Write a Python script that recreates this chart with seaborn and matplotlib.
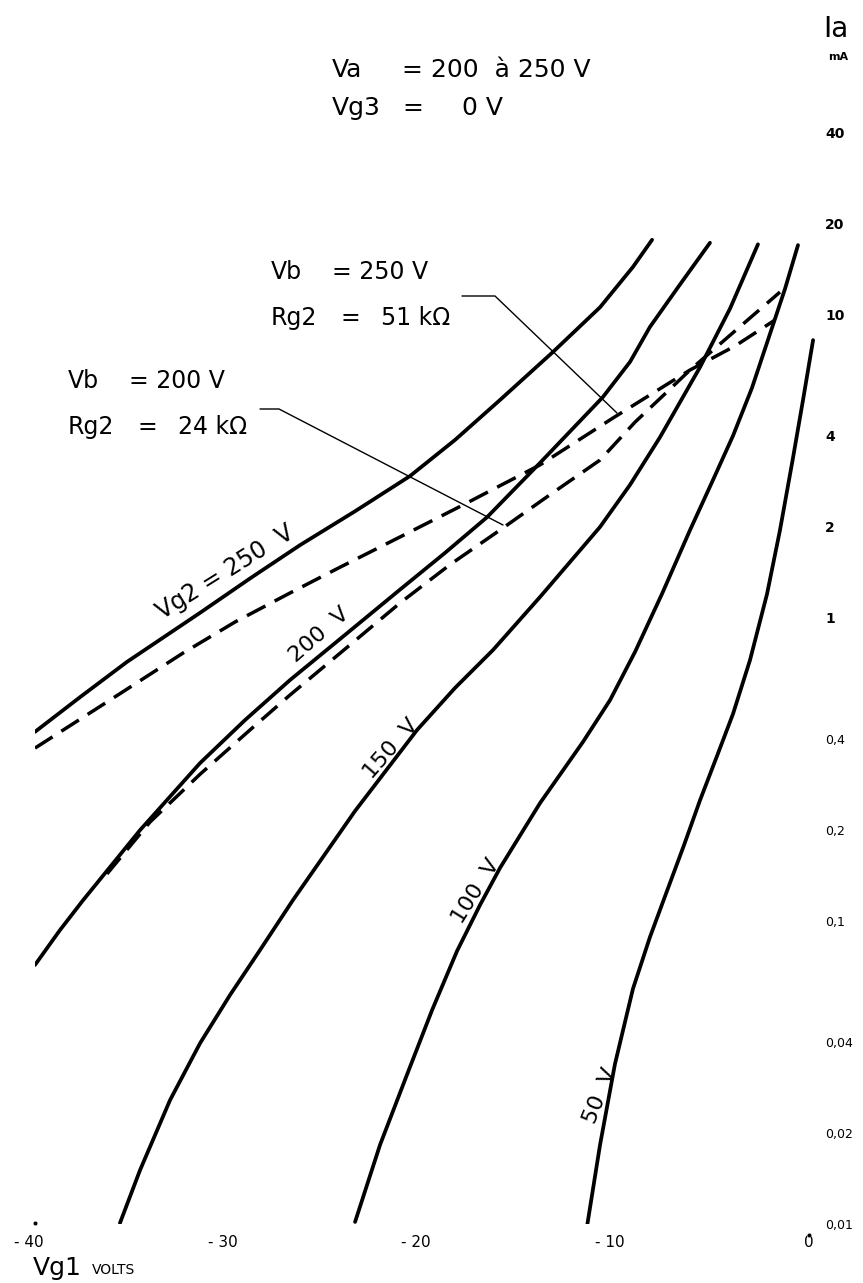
import matplotlib
matplotlib.use('Agg')
import matplotlib.pyplot as plt
from matplotlib.lines import Line2D
from matplotlib.ticker import NullLocator
from matplotlib.transforms import ScaledTranslation
import seaborn as sns

# Vg1 (volts) and Ia (mA), one pair of lists per curve
vg1_250 = [-40.0, -37.67, -35.25, -31.47, -28.89, -26.30, -23.46, -20.62,
           -18.29, -15.97, -13.23, -10.80, -9.10, -8.11]
ia_250 = [0.421, 0.548, 0.716, 1.04, 1.35, 1.74, 2.25, 2.94,
          3.87, 5.24, 7.55, 10.6, 14.4, 17.7]

vg1_200 = [-40.0, -38.71, -37.52, -34.57, -31.47, -29.15, -26.82, -23.98,
           -21.14, -18.81, -16.64, -13.90, -10.65, -9.25, -8.22, -6.67, -5.12]
ia_200 = [0.0716, 0.0933, 0.117, 0.1995, 0.332, 0.460, 0.624, 0.879,
          1.24, 1.64, 2.15, 3.25, 5.36, 7.0, 9.13, 12.6, 17.3]

vg1_150 = [-35.61, -34.57, -33.02, -31.47, -29.92, -28.37, -26.67, -23.46,
           -20.26, -18.29, -16.33, -13.90, -10.80, -9.25, -7.70, -5.63,
           -4.08, -2.64]
ia_150 = [0.01007, 0.01507, 0.02565, 0.0395, 0.0570, 0.0802, 0.1172, 0.2307,
          0.4266, 0.588, 0.784, 1.173, 1.997, 2.75, 3.95, 6.73,
          10.5, 17.1]

vg1_100 = [-23.46, -22.17, -20.78, -19.48, -18.19, -17.00, -15.97, -13.90,
           -11.68, -10.28, -8.99, -7.60, -6.15, -5.01, -3.93, -2.95,
           -2.02, -1.24, -0.57]
ia_100 = [0.01016, 0.01824, 0.03105, 0.0508, 0.0796, 0.113, 0.1496, 0.245,
          0.390, 0.536, 0.773, 1.20, 1.95, 2.81, 3.99, 5.74,
          8.65, 12.2, 17.0]

vg1_50 = [-11.47, -10.80, -10.03, -9.10, -8.22, -7.34, -6.46, -5.63,
          -4.75, -3.93, -3.05, -2.17, -1.50, -0.83, -0.31, 0.21]
ia_50 = [0.00984, 0.01824, 0.0337, 0.0597, 0.0885, 0.1256, 0.178, 0.2506,
         0.351, 0.482, 0.726, 1.20, 1.95, 3.37, 5.24, 8.26]

# load lines (dashed): Vb = 250 V / Rg2 = 51 k and Vb = 200 V / Rg2 = 24 k
vg1_rg51 = [-40.0, -36.12, -32.35, -29.66, -26.82, -24.24, -21.14, -17.88,
            -13.90, -10.13, -6.15, -3.82, -1.76]
ia_rg51 = [0.372, 0.536, 0.766, 0.970, 1.209, 1.47, 1.85, 2.36,
           3.20, 4.57, 6.58, 7.90, 9.62]

vg1_rg24 = [-36.28, -34.06, -31.47, -28.89, -26.82, -23.72, -21.14, -18.55,
            -15.97, -13.39, -10.80, -8.99, -7.34, -6.15, -3.82, -1.50]
ia_rg24 = [0.143, 0.212, 0.305, 0.427, 0.557, 0.815, 1.12, 1.50,
           1.95, 2.55, 3.32, 4.43, 5.57, 6.58, 8.86, 11.9]

x_ticks = [-40, -30, -20, -10, 0]
x_labels = ['- 40', '- 30', '- 20', '- 10', '0']
y_ticks = [0.01, 0.02, 0.04, 0.1, 0.2, 0.4, 1, 2, 4, 10, 20, 40]
y_labels = ['0,01', '0,02', '0,04', '0,1', '0,2', '0,4', '1', '2', '4', '10', '20', '40']

W, H = 863, 1283


def fx(x):
    return x / W


def fy(y):
    return 1 - y / H


sns.set_style('white')
plt.rcParams['font.family'] = ['DejaVu Sans']
plt.rcParams['text.color'] = 'black'
plt.rcParams['xtick.color'] = 'black'
plt.rcParams['ytick.color'] = 'black'

fig = plt.figure(figsize=(W / 100, H / 100), dpi=100)
ax = fig.add_axes([fx(35), fy(1224), (818.7 - 35) / W, (1224 - 117) / H])

for xs, ys in [(vg1_250, ia_250), (vg1_200, ia_200), (vg1_150, ia_150),
               (vg1_100, ia_100), (vg1_50, ia_50)]:
    sns.lineplot(x=xs, y=ys, ax=ax, color='black', linewidth=2.7,
                 sort=False, estimator=None)

for xs, ys in [(vg1_rg51, ia_rg51), (vg1_rg24, ia_rg24)]:
    sns.lineplot(x=xs, y=ys, ax=ax, color='black', linewidth=2.5,
                 linestyle=(0, (6, 3)), sort=False, estimator=None)

# reference dots at the corners
sns.scatterplot(x=[-40, 0], y=[0.0101, 0.0092], ax=ax, color='black', s=10,
                clip_on=False, legend=False)

ax.set_yscale('log')
ax.set_xlim(-40, 0.5)
ax.set_ylim(0.01, 45)
ax.yaxis.set_minor_locator(NullLocator())
ax.set_xticks(x_ticks)
ax.set_xticklabels(x_labels)
ax.set_yticks(y_ticks)
ax.set_yticklabels(y_labels)
ax.yaxis.tick_right()
ax.tick_params(axis='x', length=0, pad=8, labelsize=11)
ax.tick_params(axis='y', length=0, pad=4.5)
for lab in ax.get_xticklabels():
    if lab.get_text().startswith('-'):
        lab.set_transform(lab.get_transform() +
                          ScaledTranslation(-0.06, 0, fig.dpi_scale_trans))
for lab in ax.get_yticklabels():
    if ',' in lab.get_text():
        lab.set_fontsize(9)
    else:
        lab.set_fontsize(10)
        lab.set_fontweight('bold')
ax.set_xlabel('')
ax.set_ylabel('')
sns.despine(ax=ax, left=True, bottom=True, right=True, top=True)

# curve labels
curve_labels = [('Vg2 = 250  V', -30.18, 1.42, 32, 17),
                ('200  V', -25.32, 0.879, 41, 16),
                ('150  V', -21.6, 0.37, 49, 16),
                ('100  V', -17.21, 0.125, 58, 16),
                ('50  V', -10.8, 0.0264, 68, 16)]
for txt, xv, yv, rot, fs in curve_labels:
    ax.text(xv, yv, txt, fontsize=fs, rotation=rot, rotation_mode='anchor',
            ha='center', va='center')

# header
fig.text(fx(332), fy(70), 'Va', fontsize=18, va='center')
fig.text(fx(402), fy(70), '= 200  à 250 V', fontsize=18, va='center')
fig.text(fx(332), fy(108), 'Vg3', fontsize=18, va='center')
fig.text(fx(402), fy(108), '=', fontsize=18, va='center')
fig.text(fx(462), fy(108), '0 V', fontsize=18, va='center')

# load line captions
fig.text(fx(271), fy(272), 'Vb', fontsize=17, va='center')
fig.text(fx(332), fy(272), '= 250 V', fontsize=17, va='center')
fig.text(fx(271), fy(318), 'Rg2', fontsize=17, va='center')
fig.text(fx(340), fy(318), '=', fontsize=17, va='center')
fig.text(fx(381), fy(318), '51 kΩ', fontsize=17, va='center')

fig.text(fx(68), fy(381), 'Vb', fontsize=17, va='center')
fig.text(fx(129), fy(381), '= 200 V', fontsize=17, va='center')
fig.text(fx(68), fy(427), 'Rg2', fontsize=17, va='center')
fig.text(fx(137), fy(427), '=', fontsize=17, va='center')
fig.text(fx(178), fy(427), '24 kΩ', fontsize=17, va='center')

# leader lines
fig.add_artist(Line2D([fx(462), fx(495), fx(617)], [fy(296), fy(296), fy(413)],
                      color='black', linewidth=1.0))
fig.add_artist(Line2D([fx(260), fx(279), fx(503)], [fy(409), fy(409), fy(525)],
                      color='black', linewidth=1.0))

# axis titles
fig.text(fx(823), fy(29), 'Ia', fontsize=20, va='center')
fig.text(fx(828), fy(57), 'mA', fontsize=8, fontweight='bold', va='center')
fig.text(fx(33), fy(1268), 'Vg1', fontsize=18, va='center')
fig.text(fx(92), fy(1270), 'VOLTS', fontsize=10, va='center')

fig.savefig('out.png', dpi=100)
